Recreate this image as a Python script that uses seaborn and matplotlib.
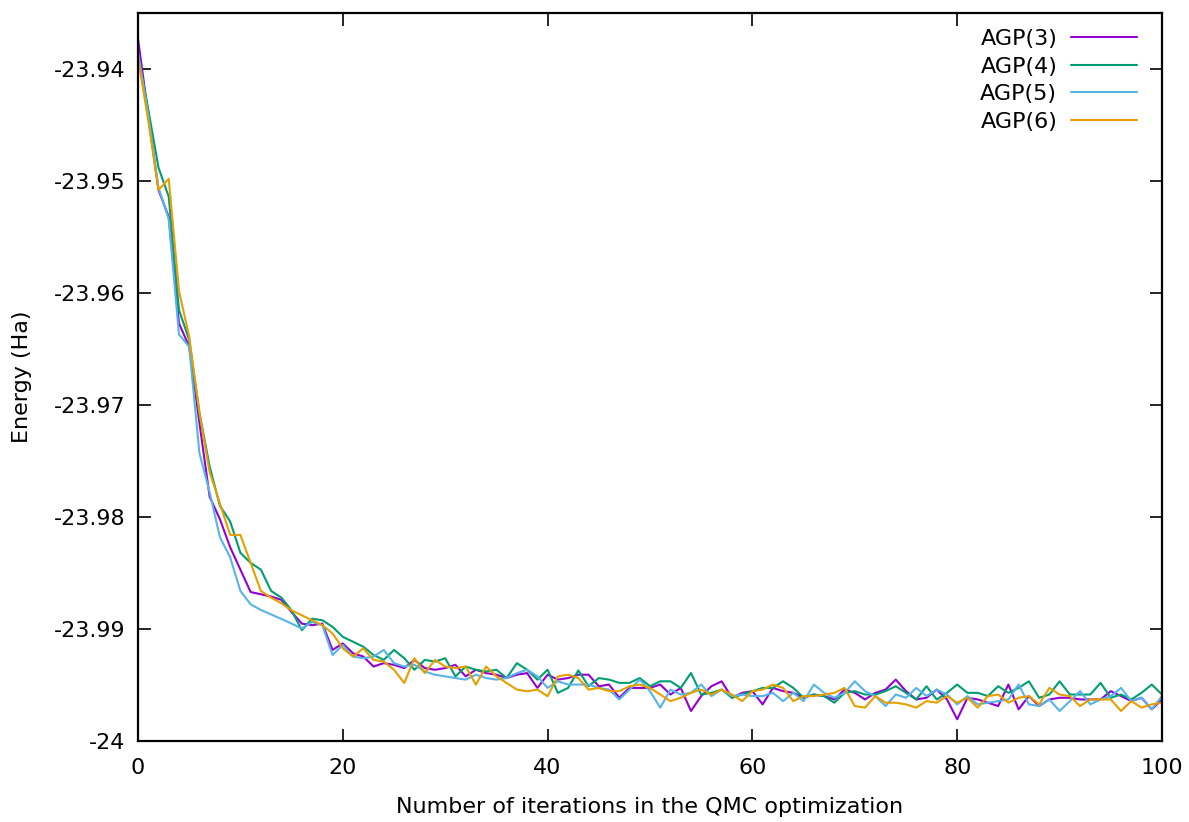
import numpy as np
import pandas as pd
import matplotlib
matplotlib.use("Agg")
import matplotlib.pyplot as plt
import seaborn as sns
from matplotlib.lines import Line2D

# ---------------- data ----------------
iterations = list(range(0, 101))

agp3 = [
    -23.9373, -23.9441, -23.9508, -23.9532, -23.9627, -23.9648, -23.9716, -23.9782, -23.9802, -23.9827,
    -23.9847, -23.9867, -23.9869, -23.9871, -23.9874, -23.98849, -23.98952, -23.98966, -23.98952, -23.99187,
    -23.99129, -23.99217, -23.99246, -23.99335, -23.99305, -23.99320, -23.99349, -23.99276, -23.99349, -23.99364,
    -23.99349, -23.99320, -23.99423, -23.99364, -23.99394, -23.99408, -23.99438, -23.99408, -23.99394, -23.99526,
    -23.99408, -23.99452, -23.99438, -23.99408, -23.99408, -23.99511, -23.99496, -23.99614, -23.99526, -23.99526,
    -23.99526, -23.99496, -23.99585, -23.99526, -23.99732, -23.99599, -23.99511, -23.99467, -23.99614, -23.99570,
    -23.99555, -23.99673, -23.99526, -23.99555, -23.99570, -23.99614, -23.99585, -23.99599, -23.99629, -23.99541,
    -23.99570, -23.99629, -23.99570, -23.99541, -23.99452, -23.99555, -23.99629, -23.99614, -23.99541, -23.99629,
    -23.99806, -23.99614, -23.99629, -23.99658, -23.99688, -23.99496, -23.99717, -23.99599, -23.99688, -23.99629,
    -23.99614, -23.99614, -23.99629, -23.99629, -23.99629, -23.99555, -23.99599, -23.99644, -23.99614, -23.99717,
    -23.99629,
]

agp4 = [
    -23.9388, -23.9436, -23.9488, -23.9514, -23.9615, -23.9642, -23.9707, -23.9755, -23.9790, -23.9804,
    -23.9832, -23.9841, -23.9847, -23.9866, -23.9872, -23.98834, -23.99011, -23.98908, -23.98922, -23.98981,
    -23.99070, -23.99114, -23.99158, -23.99232, -23.99276, -23.99187, -23.99261, -23.99364, -23.99276, -23.99291,
    -23.99261, -23.99423, -23.99335, -23.99364, -23.99379, -23.99364, -23.99438, -23.99305, -23.99364, -23.99452,
    -23.99364, -23.99570, -23.99526, -23.99370, -23.99511, -23.99438, -23.99452, -23.99481, -23.99481, -23.99438,
    -23.99511, -23.99467, -23.99467, -23.99526, -23.99393, -23.99585, -23.99570, -23.99541, -23.99614, -23.99585,
    -23.99555, -23.99526, -23.99526, -23.99467, -23.99526, -23.99614, -23.99585, -23.99599, -23.99658, -23.99570,
    -23.99555, -23.99585, -23.99585, -23.99555, -23.99511, -23.99570, -23.99629, -23.99511, -23.99629, -23.99570,
    -23.99496, -23.99570, -23.99570, -23.99599, -23.99511, -23.99570, -23.99526, -23.99467, -23.99614, -23.99585,
    -23.99467, -23.99585, -23.99585, -23.99585, -23.99481, -23.99614, -23.99585, -23.99629, -23.99570, -23.99496,
    -23.99585,
]

agp5 = [
    -23.9385, -23.9441, -23.9506, -23.9534, -23.9637, -23.9648, -23.9743, -23.9778, -23.9818, -23.9836,
    -23.9866, -23.9878, -23.9883, -23.9887, -23.9891, -23.98952, -23.98996, -23.98937, -23.98966, -23.99232,
    -23.99143, -23.99246, -23.99261, -23.99246, -23.99187, -23.99305, -23.99335, -23.99320, -23.99379, -23.99408,
    -23.99423, -23.99438, -23.99452, -23.99408, -23.99438, -23.99452, -23.99438, -23.99394, -23.99364, -23.99423,
    -23.99526, -23.99467, -23.99496, -23.99496, -23.99496, -23.99526, -23.99541, -23.99629, -23.99541, -23.99452,
    -23.99555, -23.99702, -23.99541, -23.99585, -23.99570, -23.99496, -23.99599, -23.99541, -23.99599, -23.99585,
    -23.99599, -23.99599, -23.99570, -23.99644, -23.99570, -23.99644, -23.99496, -23.99570, -23.99614, -23.99570,
    -23.99467, -23.99555, -23.99599, -23.99688, -23.99585, -23.99614, -23.99526, -23.99599, -23.99541, -23.99585,
    -23.99673, -23.99599, -23.99673, -23.99658, -23.99644, -23.99629, -23.99496, -23.99673, -23.99688, -23.99629,
    -23.99732, -23.99644, -23.99555, -23.99673, -23.99629, -23.99599, -23.99526, -23.99644, -23.99614, -23.99717,
    -23.99599,
]

agp6 = [
    -23.9390, -23.9446, -23.9508, -23.9498, -23.9598, -23.9639, -23.9707, -23.9760, -23.9788, -23.9816,
    -23.9816, -23.9841, -23.9866, -23.9872, -23.9877, -23.98834, -23.98878, -23.98922, -23.98966, -23.99040,
    -23.99173, -23.99246, -23.99173, -23.99276, -23.99291, -23.99364, -23.99482, -23.99261, -23.99394, -23.99276,
    -23.99335, -23.99349, -23.99335, -23.99497, -23.99335, -23.99423, -23.99482, -23.99541, -23.99556, -23.99541,
    -23.99600, -23.99423, -23.99408, -23.99438, -23.99541, -23.99526, -23.99555, -23.99555, -23.99511, -23.99496,
    -23.99526, -23.99585, -23.99644, -23.99614, -23.99570, -23.99541, -23.99585, -23.99541, -23.99585, -23.99644,
    -23.99555, -23.99541, -23.99496, -23.99526, -23.99644, -23.99599, -23.99599, -23.99585, -23.99570, -23.99526,
    -23.99688, -23.99702, -23.99599, -23.99658, -23.99658, -23.99673, -23.99702, -23.99644, -23.99658, -23.99599,
    -23.99658, -23.99614, -23.99702, -23.99599, -23.99585, -23.99658, -23.99614, -23.99599, -23.99673, -23.99526,
    -23.99585, -23.99599, -23.99688, -23.99629, -23.99629, -23.99629, -23.99732, -23.99644, -23.99702, -23.99673,
    -23.99658,
]

series_names = ["AGP(3)", "AGP(4)", "AGP(5)", "AGP(6)"]
series_colors = ["#9400D3", "#009E73", "#56B4E9", "#E69F00"]

x_ticks = [0, 20, 40, 60, 80, 100]
y_ticks = [-24.0, -23.99, -23.98, -23.97, -23.96, -23.95, -23.94]
y_tick_labels = ["-24", "-23.99", "-23.98", "-23.97", "-23.96", "-23.95", "-23.94"]

x_label = "Number of iterations in the QMC optimization"
y_label = "Energy (Ha)"

# ---------------- build long-form table ----------------
frames = []
for name, vals in zip(series_names, [agp3, agp4, agp5, agp6]):
    frames.append(pd.DataFrame({"iteration": iterations, "energy": vals, "series": name}))
df = pd.concat(frames, ignore_index=True)

# ---------------- plot ----------------
sns.set_theme(style="ticks")
plt.rcParams["font.family"] = ["DejaVu Sans"]
plt.rcParams["text.color"] = "black"

W, H = 1189, 822
fig = plt.figure(figsize=(W / 100, H / 100), dpi=100)
left, right, top, bottom = 138, 1162, 13, 741
ax = fig.add_axes([left / W, 1 - bottom / H, (right - left) / W, (bottom - top) / H])

sns.lineplot(data=df, x="iteration", y="energy", hue="series",
             palette=dict(zip(series_names, series_colors)),
             linewidth=1.5, ax=ax, legend=False)

ax.set_xlim(0, 100)
ax.set_ylim(-24.0, -23.935)
ax.set_xticks(x_ticks)
ax.set_xticklabels([str(t) for t in x_ticks])
ax.set_yticks(y_ticks)
ax.set_yticklabels(y_tick_labels)

for sp in ax.spines.values():
    sp.set_visible(True)
    sp.set_linewidth(1.6)
    sp.set_color("black")

ax.tick_params(axis="both", which="major", direction="in", length=9, width=1.2,
               top=True, right=True, labelsize=16, colors="black")
ax.tick_params(axis="x", pad=12)
ax.tick_params(axis="y", pad=9)

ax.set_xlabel(x_label, fontsize=16, labelpad=14, color="black")
ax.set_ylabel(y_label, fontsize=16, labelpad=16, color="black")

handles = [Line2D([], [], color=c, lw=1.5) for c in series_colors]
ax.legend(handles, series_names, loc="upper right", bbox_to_anchor=(0.9756, 0.978),
          frameon=False, fontsize=16, markerfirst=False, handlelength=2.95,
          handletextpad=0.64, labelspacing=0.34, borderaxespad=0, borderpad=0)

fig.savefig("out.png", dpi=100)
